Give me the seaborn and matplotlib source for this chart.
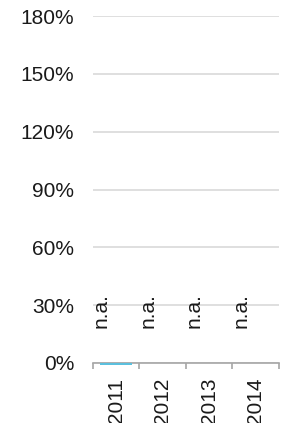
import numpy as np
import pandas as pd
import matplotlib
matplotlib.use("Agg")
import matplotlib.pyplot as plt
import seaborn as sns

# data (only 2011 has a tiny, slightly negative value)
years = ["2011", "2012", "2013", "2014"]
values = [-1.2, np.nan, np.nan, np.nan]
na_labels = ["n.a.", "n.a.", "n.a.", "n.a."]
yticks = [0, 30, 60, 90, 120, 150, 180]

sns.set_style("white")
plt.rcParams["font.family"] = ["Liberation Sans", "DejaVu Sans"]

df = pd.DataFrame({"year": years, "value": values})

fig = plt.figure(figsize=(2.85, 4.23), dpi=100)
ax = fig.add_axes([0.326, 0.142, 0.653, 0.820])

sns.barplot(data=df, x="year", y="value", color="#5BC0DE", width=0.69,
            saturation=1, ax=ax, zorder=5, linewidth=0)
for p in ax.patches:
    p.set_clip_on(False)

# n.a. markers, left of each category centre
for i, lab in enumerate(na_labels):
    ax.text(i - 0.32, 27, lab, rotation=90, ha="center", va="center",
            fontsize=15, color="#1a1a1a")

ax.set_ylim(0, 180)
ax.set_xlim(-0.5, len(years) - 0.5)
ax.set_yticks(yticks)
ax.set_yticklabels([f"{t}%" for t in yticks])
ax.yaxis.grid(True, color="#D9D9D9", linewidth=1.2, zorder=0)
ax.set_axisbelow(True)

for s in ["left", "right", "top"]:
    ax.spines[s].set_visible(False)
ax.spines["bottom"].set_color("#A6A6A6")
ax.spines["bottom"].set_linewidth(1.2)
ax.spines["bottom"].set_zorder(4)

ax.set_xticks(np.arange(-0.5, len(years)), minor=True)
ax.tick_params(axis="x", which="minor", bottom=True, length=4.5, width=1.2,
               color="#A6A6A6", direction="out")
ax.tick_params(axis="x", which="major", bottom=True, length=0, pad=10.5,
               labelsize=15, labelrotation=90, labelcolor="#1a1a1a")
ax.tick_params(axis="y", length=0, pad=13.5, labelsize=15, labelcolor="#1a1a1a")
ax.set_xlabel("")
ax.set_ylabel("")

fig.savefig("out.png", dpi=100)
